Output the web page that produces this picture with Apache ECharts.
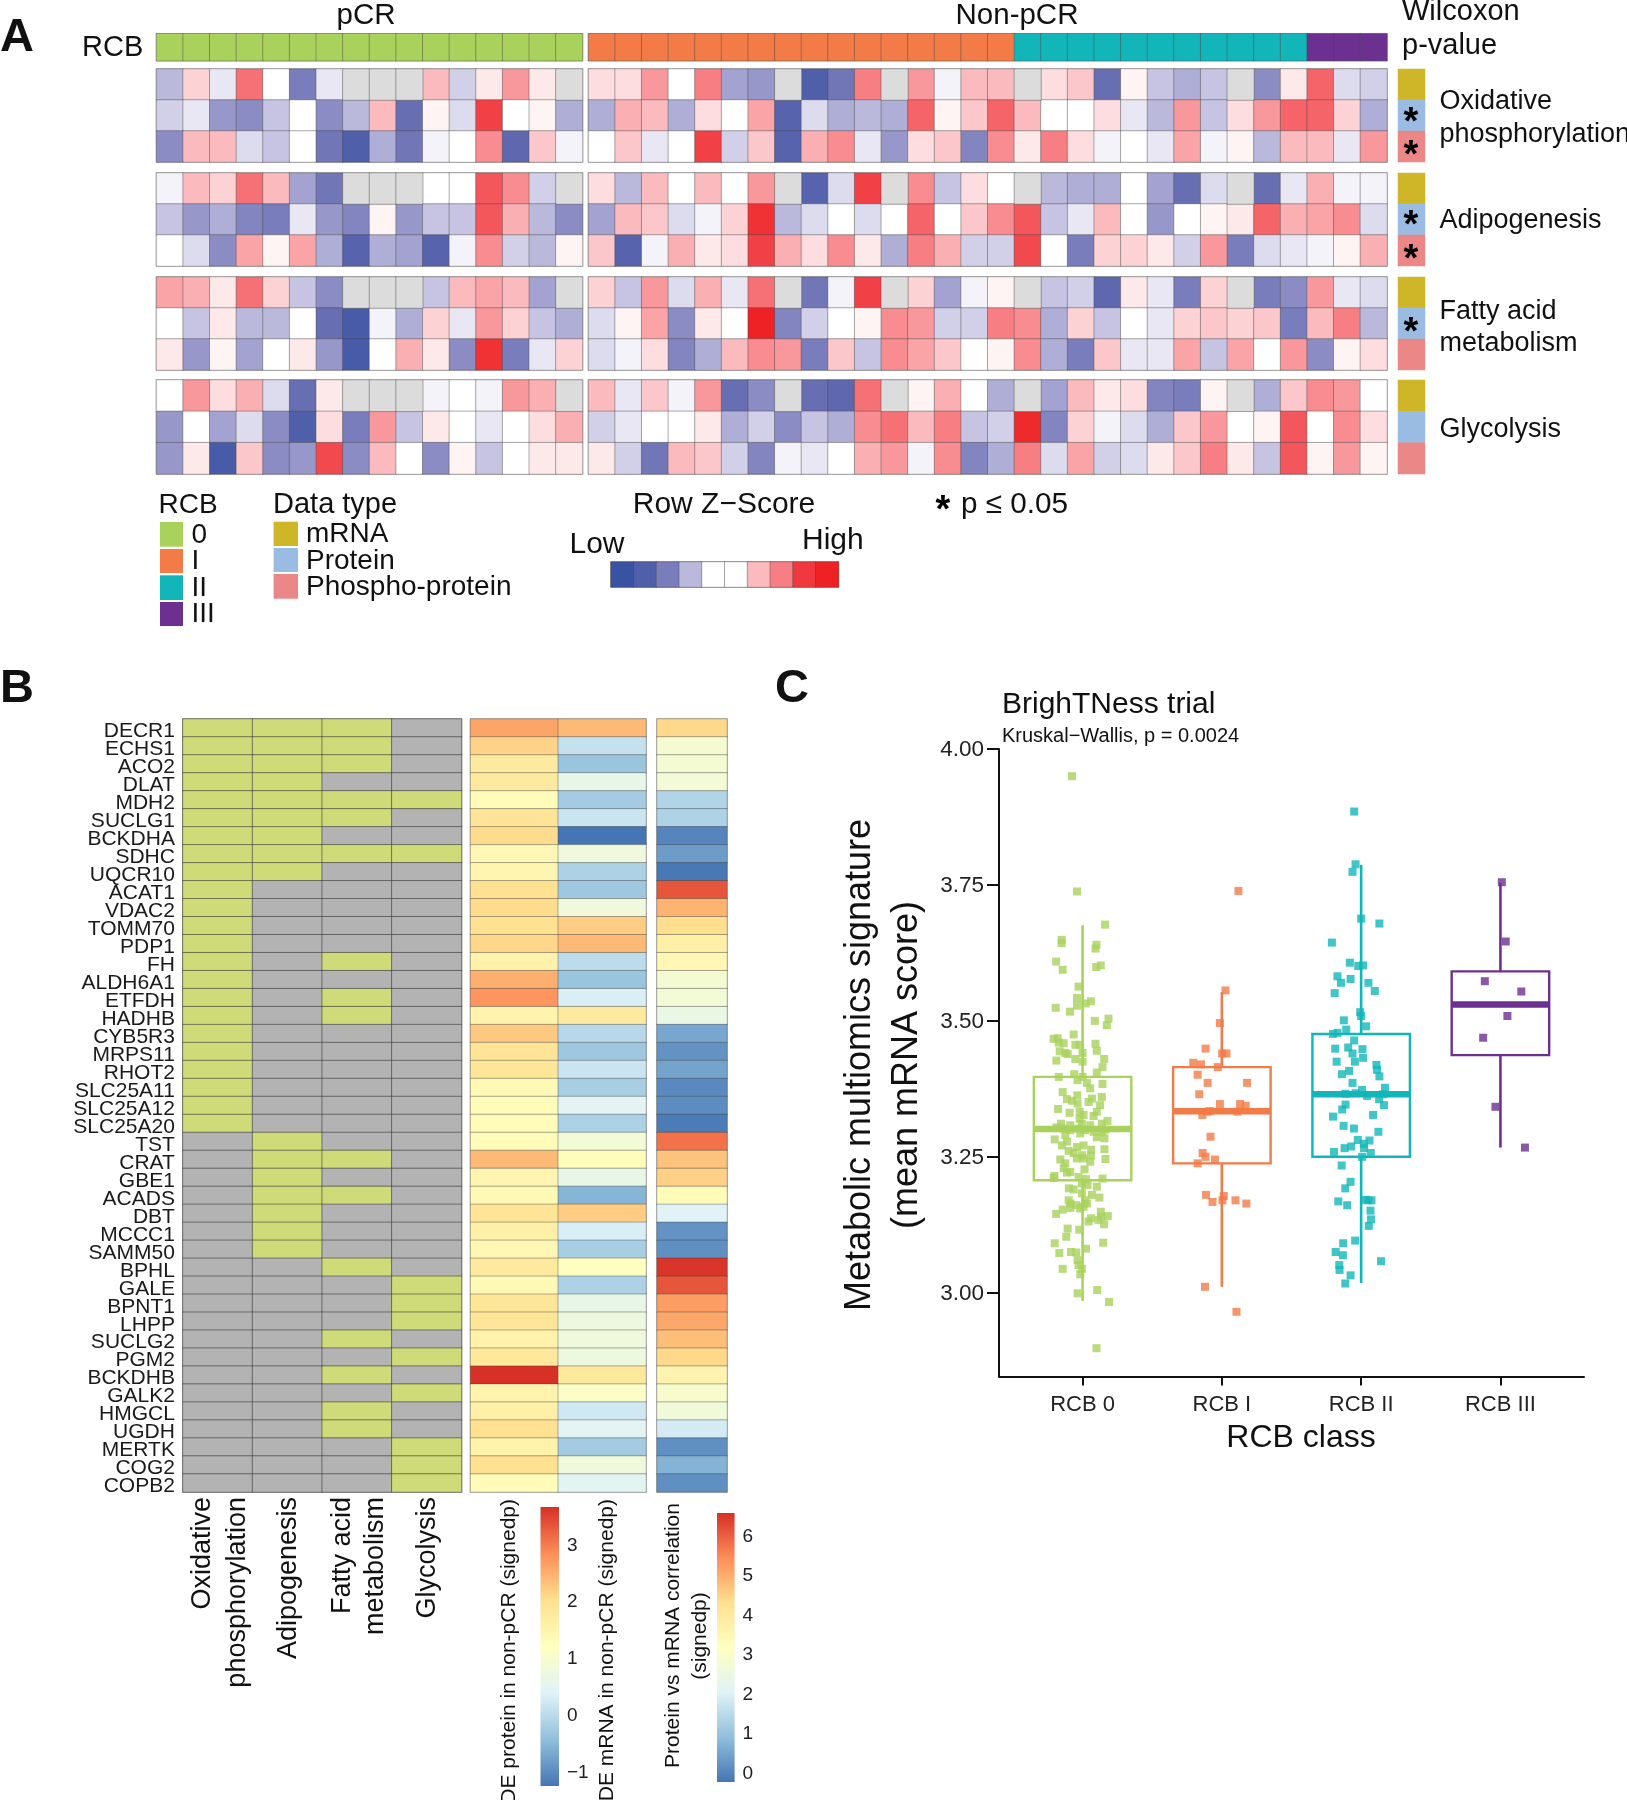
<!DOCTYPE html>
<html><head><meta charset="utf-8">
<style>html,body{margin:0;padding:0;background:#fff}#c{width:1627px;height:1800px}</style>
<script src="https://cdn.jsdelivr.net/npm/echarts@6/dist/echarts.min.js"></script>
</head><body><div id="c"></div>
<script>
const NA = null;
// ---- Panel A: row z-score (tenths), 16 pCR then 30 non-pCR patients
const oxphosMrna = [-3,2,-1,6,0,-6,-1,NA,NA,NA,3,-2,1,4.5,1,NA, 1.5,1.5,4.5,0,5.5,-4,-4.5,NA,-8.5,-6.5,5.5,NA,4.5,-0.5,3,3,NA,1.5,2.5,-7,0.5,-2.5,-3.5,-2.5,NA,-5,1,6.5,-1.5,-2];
const oxphosProtein = [-2,-1,-4.5,-5,-2.5,0,-5,-3,3,-7,0.5,-1.5,8,0,0.5,-3.5, -3.5,3.5,3,-3.5,1.5,0,4,-8,-1.5,-3.5,-3,-3.5,6.5,0.5,2.5,6.5,3,0,0,1.5,-1,-3,4.5,-2.5,1.5,4.5,6.5,6.5,2,-3.5];
const oxphosPhospho = [-5,3,3,-1.5,-2.5,0,-6.5,-8.5,-3.5,-6.5,-0.5,0,5,-7.5,2.5,-0.5, 0,2.5,-1,0,8,-2,2.5,-8,3.5,5,-1,-4.5,1.5,2.5,-5.5,5,1,5.5,1.5,-0.5,0,-1,4,-0.5,0.5,-3,3,3,-1,4.5];
const adipoMrna = [-0.5,3,2,6,3,-4,-6.5,NA,NA,NA,0,0,7,5,-2,NA, 1.5,-3,3,0,3,0,4.5,NA,-8,-1.5,8,NA,5,-2.5,1.5,0,NA,-3,-3.5,-3.5,0,-4,-7,-1.5,NA,-7,-1,3.5,-0.5,-0.5];
const adipoProtein = [-2.5,-4.5,-3.5,-5.5,-6,-1,-4.5,-5.5,0.5,-4.5,-2.5,-2.5,7,3.5,-3,-5, -4,3,2.5,-1.5,-0.5,2,9,-3,-1.5,0,-1.5,0,6.5,0,2.5,5,7,-2.5,-1,3,0,-4.5,0,0.5,1,6.5,3.5,4,5,-1.5];
const adipoPhospho = [0,-1.5,-5,4,0.5,4,-3.5,-8,-3.5,-4,-8,-0.5,5,-2,-3,0.5, 2.5,-8,-0.5,3.5,1,1.5,8,3.5,1.5,5,1,-3.5,5.5,3.5,-2,-2,7.5,0,-6,2,2,1,-2,4.5,-6,-1.5,-1,-0.5,0.5,3.5];
const fattyMrna = [4,3.5,1,6,2,-2.5,-5,NA,NA,NA,-2.5,3,4,3,-4,NA, 2,-2.5,4.5,-1.5,3.5,-1,6,NA,-6.5,-0.5,8,NA,2,-4,-0.5,0.5,NA,-2.5,-2,-7.5,1,-1,-6,2,NA,-6,-5,4.5,-1,-1.5];
const fattyProtein = [0,-2.5,1,-3,-3,0,-7,-9,-0.5,-3.5,2,-1,4.5,2,-2.5,-3.5, -1.5,0.5,4,-5,1,0,10,-5.5,-2,0,0.5,5,4.5,-2,-2,5.5,5,-3.5,2,-2.5,0,-1,2,2.5,2,2.5,-6,3,5.5,-3];
const fattyPhospho = [1,-4.5,0.5,-4,0,1,-4.5,-9,0,3.5,1,-5,9,-6,-1,2, -1.5,-0.5,1.5,-5.5,-3.5,3,5,4.5,-6,2.5,-2.5,5,4,2.5,0,0.5,5,-3.5,-6,2.5,-1,-1,4,-2.5,4,0,4.5,-5,0.5,1.5];
const glycoMrna = [0,4.5,1.5,3.5,-1.5,-7,1,NA,NA,NA,-0.5,0,-0.5,4.5,3.5,NA, 3,-1,2.5,-0.5,4.5,-7,-5,NA,-7,-7.5,6,NA,0.5,3.5,0,-3.5,NA,-4,3,1,1.5,-5.5,-6,0.5,NA,-3.5,2.5,5,4.5,0];
const glycoProtein = [-4.5,0,-4,-1.5,-5,-8.5,1.5,-6,4.5,-2.5,1,0,-1,0,1.5,3.5, -2,-1,0,0,1,-3.5,-2,-5,-2.5,-3.5,5,6,3,5.5,-2.5,-2,9.5,-5.5,2,-0.5,-1.5,-3.5,2.5,4.5,0,0.5,7,0,5,1.5];
const glycoPhospho = [-4.5,1,-9,2.5,-5,-4.5,7.5,-5,3,0,-5,0.5,-2.5,0,1,1, 1,-2,-6.5,3,2.5,-2,-5.5,-0.5,-1,0,3.5,4.5,-0.5,5,-5.5,-3.5,5.5,-1.5,4,-2,-1.5,1,2.5,5.5,1,-2.5,7,0.5,4.5,0.5];
// RCB class per patient: 16 of class 0; 16 of I; 11 of II; 3 of III
const rcbCounts = [16,16,11,3];
const zKeyValues = [-10,-8.5,-6,-3,0,0,3,5.5,8.5,10];
const dataTypes = ['mRNA','Protein','Phospho-protein'];
const pathwayNames = ['Oxidative phosphorylation','Adipogenesis','Fatty acid metabolism','Glycolysis'];

// ---- Panel B
const genes = ['DECR1','ECHS1','ACO2','DLAT','MDH2','SUCLG1','BCKDHA','SDHC','UQCR10','ACAT1','VDAC2','TOMM70','PDP1','FH','ALDH6A1','ETFDH','HADHB','CYB5R3','MRPS11','RHOT2','SLC25A11','SLC25A12','SLC25A20','TST','CRAT','GBE1','ACADS','DBT','MCCC1','SAMM50','BPHL','GALE','BPNT1','LHPP','SUCLG2','PGM2','BCKDHB','GALK2','HMGCL','UGDH','MERTK','COG2','COPB2'];
const memberOxphos = [1,1,1,1,1,1,1,1,1,1,1,1,1,1,1,1,1,1,1,1,1,1,1,0,0,0,0,0,0,0,0,0,0,0,0,0,0,0,0,0,0,0,0];
const memberAdipo  = [1,1,1,1,1,1,1,1,1,0,0,0,0,0,0,0,0,0,0,0,0,0,0,1,1,1,1,1,1,1,0,0,0,0,0,0,0,0,0,0,0,0,0];
const memberFatty  = [1,1,1,0,1,1,0,1,0,0,0,0,0,1,0,1,1,0,0,0,0,0,0,0,1,0,1,0,0,0,1,0,0,0,1,0,1,0,1,1,0,0,0];
const memberGlyco  = [0,0,0,0,1,0,0,1,0,0,0,0,0,0,0,0,0,0,0,0,0,0,0,0,0,0,0,0,0,0,0,1,1,1,0,1,0,1,0,0,1,1,1];
const deProtein = [2.6,2.15,1.75,1.75,1.3,1.9,2.05,1.4,1.45,2,2.05,2,2.1,1.55,2.5,2.75,1.5,2.25,1.9,1.85,1.35,1.3,1.3,1.3,2.4,1.45,1.35,1.9,1.6,1.4,1.75,1.35,1.85,1.85,1.55,1.8,3.65,1.5,1.6,2,1.55,2,1.3];
const deMrna = [2.4,0.1,-0.35,0.6,-0.25,0.15,-1.26,0.8,-0.15,-0.3,0.8,2.2,2.4,0,-0.35,0.3,1.75,-0.05,-0.3,0.15,-0.2,0.45,-0.15,0.85,1.25,0.6,-0.55,2.2,0.3,-0.2,1.2,-0.15,0.6,0.75,0.8,0.75,1.8,1.1,0.2,0.45,-0.25,0.8,0.45];
const corrSignedP = [4.4,2.8,2.75,2.7,1.35,1.3,0,0.35,-0.2,6.1,4.9,4.3,3.7,3.45,2.75,2.7,2.4,0.5,0.2,0.45,0.05,0.1,-0.15,5.75,4.7,4.5,3.3,2.05,0.2,0.15,6.5,6.1,5.2,5.05,4.75,4.4,3.55,2.9,2.65,1.85,0.15,0.7,0.15];

// ---- Panel C: [jitter, mean mRNA score]
const rcbClasses = ['RCB 0','RCB I','RCB II','RCB III'];
const whiskerLow = [2.985,3.011,3.018,3.267];
const boxQ1 = [3.207,3.238,3.25,3.437];
const boxMedian = [3.301,3.334,3.365,3.53];
const boxQ3 = [3.397,3.415,3.476,3.591];
const whiskerHigh = [3.676,3.553,3.787,3.754];
const rcb0Points = [[-.076,3.95],[-.04,3.738],[.162,3.677],[-.15,3.649],[-.15,3.643],[.1,3.64],[.093,3.633],[-.19,3.609],[-.143,3.594],[.098,3.599],[.131,3.602],[-.029,3.563],[-.04,3.542],[-.04,3.528],[.021,3.532],[.06,3.536],[-.193,3.524],[-.09,3.517],[.088,3.5],[.186,3.504],[.174,3.492],[-.064,3.475],[-.208,3.467],[-.179,3.468],[-.171,3.46],[-.136,3.459],[-.052,3.456],[-.021,3.456],[.093,3.458],[.102,3.445],[-.164,3.444],[-.124,3.441],[-.107,3.439],[0,3.441],[-.188,3.427],[-.052,3.43],[.155,3.43],[0,3.425],[.143,3.415],[.102,3.405],[-.171,3.397],[-.06,3.402],[0,3.397],[-.036,3.391],[.031,3.386],[.143,3.384],[.055,3.376],[-.143,3.369],[-.038,3.363],[.138,3.36],[-.112,3.356],[.067,3.357],[-.076,3.353],[.043,3.351],[-.036,3.348],[.126,3.345],[-.176,3.338],[-.093,3.331],[.102,3.333],[-.021,3.333],[.007,3.327],[.079,3.325],[-.021,3.32],[.179,3.316],[-.155,3.311],[.138,3.311],[-.005,3.311],[-.088,3.308],[.055,3.308],[-.188,3.304],[-.136,3.302],[-.029,3.302],[.019,3.299],[-.088,3.299],[.164,3.3],[.079,3.296],[.138,3.296],[-.124,3.29],[-.017,3.293],[.102,3.286],[.157,3.284],[-.2,3.282],[-.112,3.278],[.007,3.271],[-.148,3.271],[-.04,3.268],[.062,3.263],[.157,3.264],[-.1,3.261],[-.064,3.257],[-.005,3.253],[.06,3.253],[-.04,3.247],[-.16,3.245],[.007,3.247],[.164,3.246],[-.124,3.238],[.055,3.241],[-.136,3.229],[.014,3.227],[-.088,3.222],[-.112,3.221],[-.202,3.215],[-.207,3.211],[-.029,3.213],[.143,3.21],[.024,3.209],[-.005,3.201],[.036,3.198],[.102,3.195],[-.098,3.192],[-.064,3.19],[-.005,3.183],[.067,3.18],[.121,3.175],[.019,3.17],[-.1,3.17],[-.088,3.164],[-.045,3.161],[.031,3.164],[-.088,3.156],[.007,3.158],[-.143,3.153],[-.017,3.155],[-.19,3.145],[.131,3.149],[.181,3.141],[.133,3.14],[.06,3.137],[.043,3.131],[.114,3.134],[.155,3.126],[-.107,3.118],[-.024,3.116],[-.117,3.103],[-.2,3.091],[.148,3.092],[.024,3.081],[-.083,3.075],[-.167,3.073],[-.045,3.074],[-.036,3.06],[-.029,3.051],[-.143,3.044],[-.005,3.044],[-.017,3.034],[-.036,2.999],[.105,3.005],[.19,2.983],[.1,2.898]];
const rcb1Points = [[.119,3.739],[.026,3.556],[-.014,3.496],[-.117,3.449],[.033,3.44],[.002,3.44],[-.205,3.423],[-.15,3.42],[-.029,3.415],[-.174,3.401],[-.102,3.386],[.181,3.386],[-.162,3.365],[-.014,3.347],[.131,3.347],[.171,3.344],[-.086,3.334],[-.105,3.333],[-.14,3.327],[.112,3.333],[-.081,3.287],[-.138,3.257],[-.117,3.25],[-.05,3.245],[-.174,3.238],[-.114,3.18],[.014,3.178],[.005,3.17],[-.067,3.167],[.098,3.17],[.176,3.164],[-.121,3.011],[.105,2.965]];
const rcb2Points = [[-.05,3.885],[-.04,3.788],[-.062,3.774],[0,3.688],[.131,3.679],[-.21,3.644],[-.081,3.607],[-.021,3.601],[.014,3.602],[-.17,3.582],[-.145,3.57],[-.076,3.577],[.052,3.57],[-.19,3.551],[.098,3.555],[-.007,3.516],[0,3.509],[-.124,3.501],[.036,3.49],[-.107,3.484],[-.17,3.478],[-.202,3.476],[-.05,3.464],[-.093,3.451],[-.186,3.449],[.01,3.448],[-.062,3.44],[.014,3.432],[-.045,3.425],[-.176,3.425],[.11,3.419],[.114,3.41],[-.086,3.408],[-.138,3.402],[.131,3.398],[-.062,3.386],[.171,3.377],[.007,3.373],[-.112,3.366],[-.04,3.367],[.043,3.362],[.157,3.365],[.129,3.356],[.164,3.345],[-.112,3.346],[-.136,3.337],[-.202,3.324],[.086,3.327],[-.126,3.307],[-.052,3.302],[.124,3.296],[-.024,3.281],[.06,3.28],[.019,3.274],[-.071,3.269],[-.119,3.266],[.021,3.266],[-.195,3.259],[.069,3.257],[.007,3.25],[-.14,3.234],[-.076,3.204],[-.114,3.192],[.031,3.171],[.05,3.17],[.074,3.17],[-.164,3.168],[-.1,3.161],[.067,3.151],[.071,3.135],[.055,3.123],[-.043,3.096],[-.129,3.091],[-.183,3.075],[-.131,3.069],[.143,3.058],[-.157,3.051],[-.155,3.042],[-.076,3.032],[-.114,3.017]];
const rcb3Points = [[.01,3.755],[.038,3.646],[-.112,3.573],[.15,3.554],[.05,3.509],[-.124,3.469],[-.036,3.342],[.176,3.267]];

// ---- styling (not data)
const FONT = '"Liberation Sans", Arial, Helvetica, sans-serif';
const rcbColors = ['#A9D25C','#F37B47','#13B6B8','#6C3091'];
const typeColors = ['#CFB628','#9ABCE2','#EC8787'];
const zColors = ['#3953A4','#5F67AE','#8C8CC4','#C6C4E2','#FFFFFF','#FCC7CA','#F88C90','#F2494E','#EE2225'];
const rdylbu = ['#4575B4','#91BFDB','#E0F3F8','#FFFFBF','#FEE090','#FC8D59','#D73027'];
const PROT = [-1.26,3.65], CORR = [-0.25,6.56];

const grid=[],xAxis=[],yAxis=[],series=[];
const vm={z:[],rcb:[],type:[],member:[],prot:[],corr:[]};
function range(n){return Array.from({length:n},(_,i)=>String(i));}
function heat(rect,rowsData,vmKey,o={}){
  const i=grid.length, nr=rowsData.length, nc=rowsData[0].length;
  grid.push({left:rect[0],top:rect[1],width:rect[2]-rect[0],height:rect[3]-rect[1],show:true,backgroundColor:'transparent',borderColor:o.outer||'#BDBDBD',borderWidth:1.5});
  xAxis.push({gridIndex:i,type:'category',data:range(nc),show:false});
  yAxis.push({gridIndex:i,type:'category',inverse:true,data:o.rowLabels||range(nr),show:!!o.rowLabels,
    axisLine:{show:false},axisTick:{show:false},splitLine:{show:false},
    axisLabel:{interval:0,margin:8,fontFamily:FONT,fontSize:21,color:'#1a1a1a',verticalAlign:'top',lineHeight:7}});
  const d=[],na=[];
  rowsData.forEach((row,r)=>row.forEach((v,c)=>{ if(v===null) na.push([c,r,0]); else d.push([c,r,v]); }));
  const itemStyle={borderColor:o.border||'rgba(70,70,70,0.42)',borderWidth:o.bw===undefined?1:o.bw};
  vm[vmKey].push(series.length);
  series.push({type:'heatmap',xAxisIndex:i,yAxisIndex:i,data:d,silent:true,progressive:0,itemStyle,emphasis:{disabled:true}});
  if(na.length) series.push({type:'heatmap',xAxisIndex:i,yAxisIndex:i,data:na,silent:true,progressive:0,
    itemStyle:{color:'#DCDCDC',borderColor:itemStyle.borderColor,borderWidth:itemStyle.borderWidth},emphasis:{disabled:true}});
}
const rcbLabels=[];
rcbCounts.forEach((n,k)=>{for(let j=0;j<n;j++)rcbLabels.push(k);});
heat([156.5,33.7,582.5,60.7],[rcbLabels.slice(0,16)],'rcb');
heat([588.5,33.7,1387,60.7],[rcbLabels.slice(16)],'rcb');
const blocks=[[oxphosMrna,oxphosProtein,oxphosPhospho,69,162],[adipoMrna,adipoProtein,adipoPhospho,173,266],[fattyMrna,fattyProtein,fattyPhospho,277,370],[glycoMrna,glycoProtein,glycoPhospho,380,474]];
blocks.forEach(b=>{
  const rows=[b[0],b[1],b[2]];
  heat([156.5,b[3],582.5,b[4]],rows.map(r=>r.slice(0,16)),'z');
  heat([588.5,b[3],1387,b[4]],rows.map(r=>r.slice(16)),'z');
  heat([1398,b[3],1425,b[4]],dataTypes.map((t,k)=>[k]),'type',{bw:0,outer:'#fff'});
});
heat([611,562,838.5,587],[zKeyValues],'z',{outer:'#999'});
heat([182.9,719,461.5,1492],genes.map((g,i)=>[memberOxphos[i],memberAdipo[i],memberFatty[i],memberGlyco[i]]),'member',{rowLabels:genes,outer:'#AAA',border:'rgba(50,50,50,0.55)'});
heat([470.5,719,646,1492],genes.map((g,i)=>[deProtein[i],deMrna[i]]),'prot',{outer:'#C8C8C8',border:'rgba(60,60,60,0.4)'});
heat([657,719,727,1492],genes.map((g,i)=>[corrSignedP[i]]),'corr',{outer:'#C8C8C8',border:'rgba(60,60,60,0.4)'});

function colorbar(rect,ext,ticks){
  const i=grid.length;
  grid.push({left:rect[0],top:rect[1],width:rect[2]-rect[0],height:rect[3]-rect[1],show:true,borderWidth:0,
    backgroundColor:{type:'linear',x:0,y:1,x2:0,y2:0,colorStops:rdylbu.map((c,k)=>({offset:k/(rdylbu.length-1),color:c}))}});
  xAxis.push({gridIndex:i,type:'value',show:false,min:0,max:1});
  yAxis.push({gridIndex:i,type:'value',position:'right',min:ext[0],max:ext[1],splitLine:{show:false},axisLine:{show:false},axisTick:{show:false},
    axisLabel:{customValues:ticks,margin:8,fontFamily:FONT,fontSize:19,color:'#222',verticalAlign:'top',lineHeight:3,formatter:v=>String(v).replace('-','\u2212')}});
}
colorbar([540.5,1507,559,1786],PROT,[-1,0,1,2,3]);
colorbar([717,1513,734.6,1782],CORR,[0,1,2,3,4,5,6]);

// Panel C
const cIdx=grid.length;
grid.push({left:999,top:749,width:585,height:627.5});
xAxis.push({gridIndex:cIdx,type:'value',min:0.4,max:4.6,splitLine:{show:false},
  axisLine:{lineStyle:{color:'#111',width:2}},
  axisTick:{customValues:[1,2,3,4],length:9,lineStyle:{color:'#111',width:2}},
  axisLabel:{customValues:[1,2,3,4],margin:17,fontFamily:FONT,fontSize:22,color:'#222',formatter:v=>rcbClasses[v-1]}});
yAxis.push({gridIndex:cIdx,type:'value',min:2.846,max:4,splitLine:{show:false},
  axisLine:{show:true,lineStyle:{color:'#111',width:2}},
  axisTick:{show:true,customValues:[3,3.25,3.5,3.75,4],length:12,lineStyle:{color:'#111',width:2}},
  axisLabel:{customValues:[3,3.25,3.5,3.75,4],margin:15,fontFamily:FONT,fontSize:22.5,color:'#222',verticalAlign:'top',lineHeight:2,formatter:v=>v.toFixed(2)}});
series.push({type:'custom',xAxisIndex:cIdx,yAxisIndex:cIdx,silent:true,z:2,clip:false,
  data:rcbClasses.map((n,k)=>[k+1,whiskerLow[k],boxQ1[k],boxMedian[k],boxQ3[k],whiskerHigh[k]]),
  encode:{x:0,y:[1,5]},
  renderItem(params,api){
    const k=api.value(0), w=api.size([0.7,0])[0], col=rcbColors[params.dataIndex];
    const P=v=>api.coord([k,v]);
    const lo=P(api.value(1)),q1=P(api.value(2)),md=P(api.value(3)),q3=P(api.value(4)),hi=P(api.value(5));
    const ln=(a,b,lw)=>({type:'line',shape:{x1:a[0],y1:a[1],x2:b[0],y2:b[1]},style:{stroke:col,lineWidth:lw}});
    return {type:'group',children:[
      ln(hi,q3,2.6),ln(q1,lo,2.6),
      {type:'rect',shape:{x:q3[0]-w/2,y:q3[1],width:w,height:q1[1]-q3[1]},style:{fill:'none',stroke:col,lineWidth:2.4}},
      ln([md[0]-w/2,md[1]],[md[0]+w/2,md[1]],6.5)
    ]};
  }});
[rcb0Points,rcb1Points,rcb2Points,rcb3Points].forEach((pts,k)=>{
  series.push({type:'scatter',xAxisIndex:cIdx,yAxisIndex:cIdx,silent:true,z:3,symbol:'rect',symbolSize:8,
    itemStyle:{color:rcbColors[k]},data:pts.map(p=>[k+1+p[0],p[1]])});
});

// text + swatches
function T(text,x,base,size,o={}){return {type:'text',x,y:base-0.35*size+2.5,silent:true,z:100,
  style:{text,fill:o.fill||'#111',font:(o.bold?'bold ':'')+size+'px '+FONT,textAlign:o.align||'left',verticalAlign:'middle',textVerticalAlign:'middle'}};}
function R(text,x,y,size,align){return {type:'text',x,y,rotation:Math.PI/2,silent:true,z:100,
  style:{text,fill:'#111',font:size+'px '+FONT,textAlign:align||'center',verticalAlign:'middle',textVerticalAlign:'middle'}};}
function S(x,y,w,h,fill){return {type:'rect',shape:{x,y,width:w,height:h},silent:true,z:90,style:{fill}};}
const Star=(x,cy,s)=>T('*',x,cy+0.55*(s||38)*0.98-1,s||38,{bold:true,align:'center',fill:'#000'});
const g=[
 T('A',0,52,47,{bold:true}),T('B',0,703,47,{bold:true}),T('C',775,703,47,{bold:true}),
 T('RCB',82,56,29),T('pCR',366,24,29.5,{align:'center'}),T('Non-pCR',1017,24,29.5,{align:'center'}),
 T('Wilcoxon',1402,20,29),T('p-value',1402,54,29),
 T('Oxidative',1439.5,108,27),T('phosphorylation',1439.5,141,27),T('Adipogenesis',1439.5,227,27),
 T('Fatty acid',1439.5,318,27),T('metabolism',1439.5,350,27),T('Glycolysis',1439.5,436,27),
 Star(1411,115),Star(1411,148),Star(1411,218),Star(1411,252),Star(1411,325),
 T('RCB',158.5,513,28),T('Data type',273,513,29),T('Row Z\u2212Score',724,513,30,{align:'center'}),
 Star(943,503),T('p \u2264 0.05',961,513,29.7),
 T('Low',569.5,553,30),T('High',802,548.5,30),
 S(160,522,23,24.7,rcbColors[0]),S(160,549,23,24,rcbColors[1]),S(160,575.3,23,24.7,rcbColors[2]),S(160,602,23,24,rcbColors[3]),
 T('0',191.5,543,28),T('I',191.5,569,28),T('II',191.5,596,28),T('III',191.5,622,28),
 S(273.6,521.7,24.4,24.3,typeColors[0]),S(273.6,548,24.4,24,typeColors[1]),S(273.6,574,24.4,24.7,typeColors[2]),
 T(dataTypes[0],306,541.7,28),T(dataTypes[1],306,568.3,28),T(dataTypes[2],306,595,28),
 R('Oxidative',203,1497,27,'right'),R('phosphorylation',237.5,1497,27,'right'),R('Adipogenesis',288.5,1497,27,'right'),
 R('Fatty acid',343,1497,27,'right'),R('metabolism',376,1497,27,'right'),R('Glycolysis',428,1497,27,'right'),
 R('DE protein in non-pCR (signedp)',509,1499,21,'right'),R('DE mRNA in non-pCR (signedp)',607.5,1499,21,'right'),
 R('Protein vs mRNA correlation',673,1635.5,21),R('(signedp)',700,1636,21),
 T('BrighTNess trial',1002,713,30),T('Kruskal\u2212Wallis, p = 0.0024',1002,741,20),
 T('RCB class',1301,1447,32,{align:'center'}),
 R('Metabolic multiomics signature',860,1065,36),R('(mean mRNA score)',907,1065,36)
];

function pieces(colors){return colors.map((c,k)=>({value:k,color:c}));}
const option={animation:false,backgroundColor:'#fff',grid,xAxis,yAxis,series,graphic:{elements:g},
 visualMap:[
  {type:'continuous',show:false,min:-10,max:10,dimension:2,seriesIndex:vm.z,inRange:{color:zColors}},
  {type:'piecewise',show:false,dimension:2,seriesIndex:vm.rcb,pieces:pieces(rcbColors)},
  {type:'piecewise',show:false,dimension:2,seriesIndex:vm.type,pieces:pieces(typeColors)},
  {type:'piecewise',show:false,dimension:2,seriesIndex:vm.member,pieces:pieces(['#B3B3B3','#CEDB78'])},
  {type:'continuous',show:false,min:PROT[0],max:PROT[1],dimension:2,seriesIndex:vm.prot,inRange:{color:rdylbu}},
  {type:'continuous',show:false,min:CORR[0],max:CORR[1],dimension:2,seriesIndex:vm.corr,inRange:{color:rdylbu}}
 ]};
echarts.init(document.getElementById('c'),null,{renderer:'canvas'}).setOption(option);
</script></body></html>
